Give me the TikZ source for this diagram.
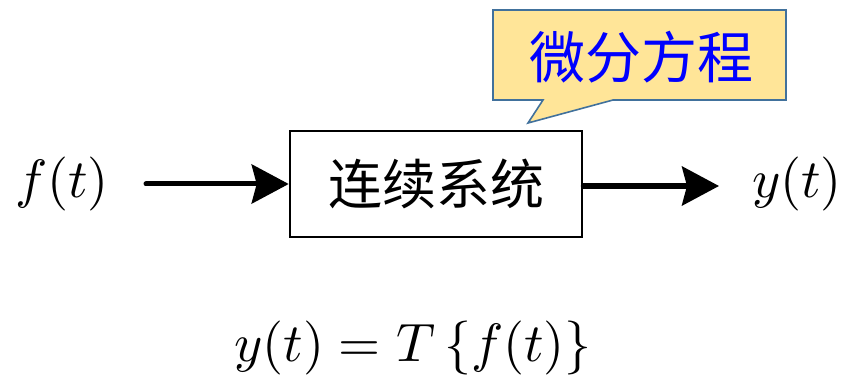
\documentclass[tikz,border=0pt]{standalone}
\usepackage{fontspec}
\usepackage{graphicx}
\newfontfamily\cjk{Noto Sans CJK SC}
\usetikzlibrary{arrows.meta}
\definecolor{calloutfill}{HTML}{FFE598}
\definecolor{calloutdraw}{HTML}{41719C}
\definecolor{textblue}{HTML}{0000FF}
\newcommand{\hugemath}[1]{\scalebox{5.4}{$#1$}}
\tikzset{
  sysbox/.style={draw=black, line width=2.6pt, minimum width=292pt, minimum height=106pt, inner sep=0pt, font=\cjk\fontsize{54}{60}\selectfont},
  sig/.style={-{Stealth[length=37pt,width=39pt,inset=5pt]}, line width=5pt, line cap=round},
  mathlbl/.style={inner sep=0pt},
}
\begin{document}
\begin{tikzpicture}[x=1pt,y=-1pt]
\useasboundingbox (0,0) rectangle (849,377);
% callout
\draw[fill=calloutfill, draw=calloutdraw, line width=1.6pt, line join=miter]
  (493,10) -- (786,10) -- (786,100) -- (613,100) -- (528,123) -- (543,100) -- (493,100) -- cycle;
\node[inner sep=0pt, text=textblue, font=\cjk\fontsize{56}{60}\selectfont] (callout) at (641,57) {微分方程};
% system box
\node[sysbox] (sys) at (436,184) {连续系统};
% signals
\node[mathlbl] (f) at (62,184) {\hugemath{f(t)}};
\node[mathlbl] (y) at (797,184) {\hugemath{y(t)}};
\coordinate (fin) at (146,184);
\coordinate (yout) at (719,186);
\draw[sig] (fin) -- (sys.west);
\draw[sig] (sys.east |- yout) -- (yout);
% equation
\node[mathlbl] (eq) at (413,348) {\hugemath{y(t) = T\,\{f(t)\}}};
\end{tikzpicture}
\end{document}
